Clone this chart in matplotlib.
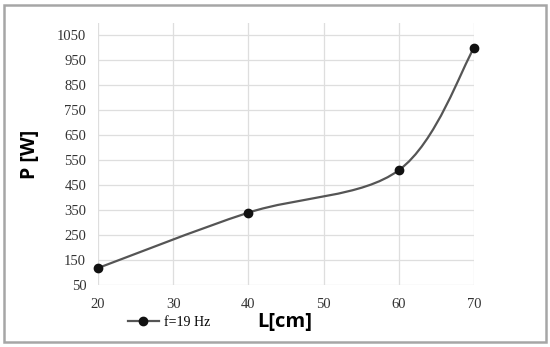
import matplotlib
matplotlib.use("Agg")
import matplotlib.pyplot as plt
import numpy as np
from matplotlib.path import Path
from matplotlib.patches import PathPatch, Rectangle
from matplotlib.lines import Line2D

L_cm = [20, 40, 60, 70]
P_W = [118, 340, 510, 1000]
x_ticks = [20, 30, 40, 50, 60, 70]
y_ticks = [50, 150, 250, 350, 450, 550, 650, 750, 850, 950, 1050]
series_label = "f=19 Hz"

fig = plt.figure(figsize=(5.5, 3.47), dpi=100)
fig.patches.append(Rectangle((4/550, 5/347), 542/550, 337/347, transform=fig.transFigure,
                             fill=False, edgecolor="#a6a6a6", linewidth=1.8))
ax = fig.add_axes([98/550, 1-285/347, (474-98)/550, (285-23)/347])
ax.set_xlim(20, 70)
ax.set_ylim(50, 1100)
ax.set_xticks(x_ticks)
ax.set_yticks(y_ticks)
for s in ax.spines.values():
    s.set_visible(False)
ax.grid(True, color="#dedede", linewidth=0.9)
ax.set_axisbelow(True)
ax.tick_params(length=0, labelsize=10.5, colors="#333333")
for lab in ax.get_xticklabels() + ax.get_yticklabels():
    lab.set_fontfamily("Liberation Serif")
ax.tick_params(axis="x", pad=9)
ax.tick_params(axis="y", pad=8.5)

# smoothed line (Catmull-Rom as cubic Bezier)
x = np.array(L_cm, float); y = np.array(P_W, float)
n = len(x)
verts = [(x[0], y[0])]; codes = [Path.MOVETO]
t = 1/6
for i in range(n-1):
    p0 = (x[i-1], y[i-1]) if i > 0 else (x[i], y[i])
    p1 = (x[i], y[i]); p2 = (x[i+1], y[i+1])
    p3 = (x[i+2], y[i+2]) if i+2 < n else (x[i+1], y[i+1])
    c1 = (p1[0] + (p2[0]-p0[0])*t, p1[1] + (p2[1]-p0[1])*t)
    c2 = (p2[0] - (p3[0]-p1[0])*t, p2[1] - (p3[1]-p1[1])*t)
    verts += [c1, c2, p2]; codes += [Path.CURVE4]*3
ax.add_patch(PathPatch(Path(verts, codes), fill=False, edgecolor="#555555", linewidth=1.6, clip_on=False))
ax.plot(L_cm, P_W, linestyle="none", marker="o", markersize=6, color="#111111", clip_on=False, zorder=5)

fig.text(30/550, 1-154/347, "P [W]", rotation=90, ha="center", va="center",
         fontsize=14, fontweight="bold", family="Open Sans")
fig.text(285/550, 1-322/347, "L[cm]", ha="center", va="center",
         fontsize=14.5, fontweight="bold", family="Open Sans")
h = Line2D([], [], color="#555555", linewidth=1.6, marker="o", markersize=6,
           markerfacecolor="#111111", markeredgecolor="#111111")
fig.legend([h], [series_label], loc="center left", bbox_to_anchor=(121/550, 1-322/347),
           frameon=False, prop={"family": "Liberation Serif", "size": 10},
           handlelength=2.2, handletextpad=0.4, borderpad=0)
fig.savefig("out.png", dpi=100)
